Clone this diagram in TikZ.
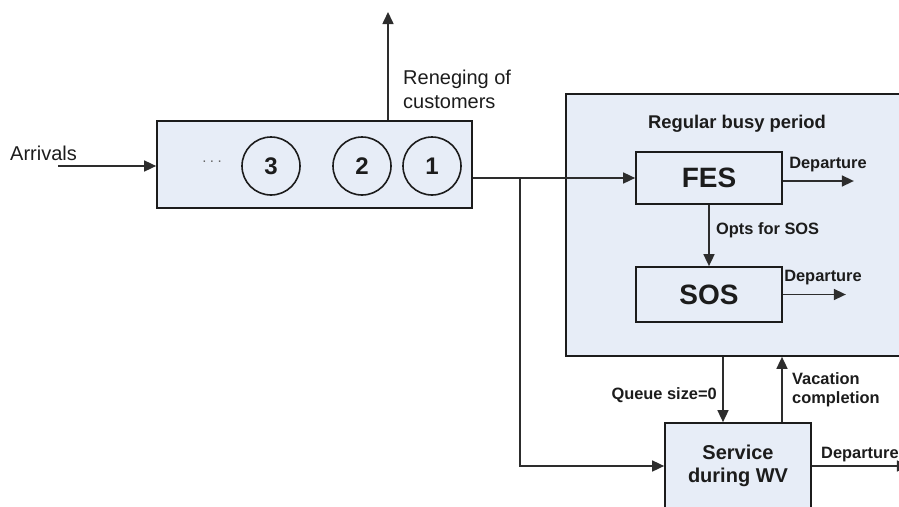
\documentclass[tikz,border=0pt]{standalone}
\usepackage{fontspec}
\setmainfont{Liberation Sans}
\usetikzlibrary{arrows.meta}
\definecolor{panel}{RGB}{231,237,247}
\definecolor{ink}{RGB}{28,28,28}
\definecolor{wire}{RGB}{45,45,45}
\tikzset{
  line/.style={draw=wire, line width=1.6pt},
  arr/.style={line, -{Triangle[length=12pt,width=11pt]}},
  box/.style={draw=ink, line width=1.7pt, fill=panel, inner sep=0pt},
  proc/.style={box, text=ink, font=\fontsize{28}{30}\selectfont\bfseries},
  cust/.style={circle, draw=ink, line width=1.6pt, minimum size=58pt, inner sep=0pt,
    text=ink, font=\fontsize{24}{24}\selectfont\bfseries},
  plain/.style={text=ink, inner sep=0pt, font=\fontsize{20}{24}\selectfont},
  tag/.style={text=ink, inner sep=0pt, font=\fontsize{16.4}{19.5}\selectfont\bfseries},
}
\begin{document}
\begin{tikzpicture}[x=1pt, y=-1pt]
\useasboundingbox (0,0) rectangle (899,506);
\clip (0,0) rectangle (899,506);

% waiting line with its customers
\node[box, minimum width=315pt, minimum height=87pt] (queue) at (314.5,164.5) {};
\node[cust] (c3) at (271,166) {3};
\node[cust] (c2) at (362,166) {2};
\node[cust] (c1) at (432,166) {1};
\node[text=black!60, inner sep=0pt, font=\fontsize{15}{15}\selectfont] (dots) at (212,162) {.\hspace{3.5pt}.\hspace{3.5pt}.};

% regular busy period panel
\node[box, minimum width=339pt, minimum height=262pt] (busy) at (735.5,225) {};
\node[plain, font=\fontsize{18.4}{20}\selectfont\bfseries] (title) at (737,124) {Regular busy period};
\node[proc, minimum width=146pt, minimum height=52pt] (fes) at (709,178) {FES};
\node[proc, minimum width=146pt, minimum height=55pt] (sos) at (709,294.5) {SOS};

% working vacation service
\node[proc, minimum width=146pt, minimum height=86pt, align=center,
  font=\fontsize{20}{23}\selectfont\bfseries] (wv) at (738,466) {Service\\during WV};

% labels
\node[plain, anchor=west] (arrlbl) at (10,153) {Arrivals};
\node[plain, anchor=west, align=left] (renlbl) at (403,89) {Reneging of\\customers};
\node[tag] (dep1) at (828,165) {Departure};
\node[tag, anchor=west] (optlbl) at (716,230) {Opts for SOS};
\node[tag] (dep2) at (823,278) {Departure};
\node[tag, anchor=east] (qlbl) at (717,395) {Queue size=0};
\node[tag, anchor=west, align=left] (vlbl) at (792,390) {Vacation\\completion};
\node[tag, anchor=west] (dep3) at (821,455) {Departure};

% connectors
\coordinate (arrin) at (58,166);
\coordinate (renege) at (388,12);
\coordinate (split) at (520,178);
\coordinate (qx) at (723,400);
\coordinate (vx) at (782,400);

\draw[arr] (arrin) -- (arrin -| queue.west);
\draw[arr] (renege |- queue.north) -- (renege);
\draw[arr] (queue.east |- fes.west) -- (fes.west);
\draw[arr] (split) -- (split |- wv.west) -- (wv.west);
\draw[arr] ([yshift=-3pt]fes.east) -- ++(71,0);
\draw[arr] (fes.south) -- (sos.north);
\draw[arr] (sos.east) -- ++(63,0);
\draw[arr] (qx |- busy.south) -- (qx |- wv.north);
\draw[arr] (vx |- wv.north) -- (vx |- busy.south);
\draw[arr] (wv.east) -- ++(97,0);
\end{tikzpicture}
\end{document}
